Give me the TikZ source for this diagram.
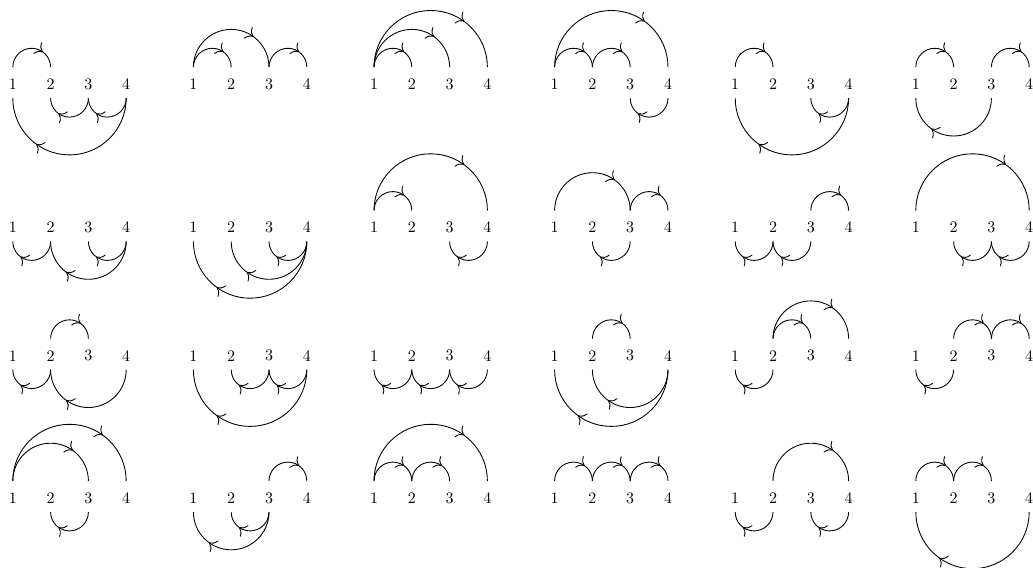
\documentclass[tikz,border=0pt]{standalone}
\usetikzlibrary{decorations.markings,arrows.meta}
\tikzset{
  x=0.625pt, y=0.625pt,
  lbl/.style={inner sep=0pt},
  arcline/.style={line width=0.55pt,
    decoration={markings, mark=at position 0.7 with {\arrow{To[scale=1.5]}}},
    postaction={decorate}},
}
\newcommand\mkpanel[3]{%
  \foreach \i in {1,...,4} {
    \node[lbl] (#1-\i) at ({#2+(\i-1)*37.8},{-#3}) {\i};
    \coordinate (#1-u\i) at ({#2+(\i-1)*37.8},{-#3+17});
    \coordinate (#1-d\i) at ({#2+(\i-1)*37.8},{-#3-14});
  }}
\newcommand\uarc[3]{\draw[arcline] (#1-u#2) arc[start angle=180,end angle=0,radius={(#3-#2)*18.9}];}
\newcommand\darc[3]{\draw[arcline] (#1-d#3) arc[start angle=0,end angle=-180,radius={(#3-#2)*18.9}];}
\begin{document}
\begin{tikzpicture}
\useasboundingbox (0,0) rectangle (1033,-567);
% row 1
\mkpanel{a1}{12.8}{84.2}
\uarc{a1}{1}{2}\darc{a1}{2}{3}\darc{a1}{3}{4}\darc{a1}{1}{4}
\mkpanel{a2}{193.4}{84.2}
\uarc{a2}{1}{2}\uarc{a2}{1}{3}\uarc{a2}{3}{4}
\mkpanel{a3}{374.0}{84.2}
\uarc{a3}{1}{2}\uarc{a3}{1}{3}\uarc{a3}{1}{4}
\mkpanel{a4}{554.6}{84.2}
\uarc{a4}{1}{2}\uarc{a4}{2}{3}\uarc{a4}{1}{4}\darc{a4}{3}{4}
\mkpanel{a5}{735.2}{84.2}
\uarc{a5}{1}{2}\darc{a5}{3}{4}\darc{a5}{1}{4}
\mkpanel{a6}{915.8}{84.2}
\uarc{a6}{1}{2}\uarc{a6}{3}{4}\darc{a6}{1}{3}
% row 2
\mkpanel{b1}{12.8}{227.5}
\darc{b1}{1}{2}\darc{b1}{2}{4}\darc{b1}{3}{4}
\mkpanel{b2}{193.4}{227.5}
\darc{b2}{1}{4}\darc{b2}{2}{4}\darc{b2}{3}{4}
\mkpanel{b3}{374.0}{227.5}
\uarc{b3}{1}{2}\uarc{b3}{1}{4}\darc{b3}{3}{4}
\mkpanel{b4}{554.6}{227.5}
\uarc{b4}{1}{3}\uarc{b4}{3}{4}\darc{b4}{2}{3}
\mkpanel{b5}{735.2}{227.5}
\uarc{b5}{3}{4}\darc{b5}{1}{2}\darc{b5}{2}{3}
\mkpanel{b6}{915.8}{227.5}
\uarc{b6}{1}{4}\darc{b6}{2}{3}\darc{b6}{3}{4}
% row 3
\mkpanel{c1}{12.8}{355.7}
\uarc{c1}{2}{3}\darc{c1}{1}{2}\darc{c1}{2}{4}
\mkpanel{c2}{193.4}{355.7}
\darc{c2}{1}{4}\darc{c2}{2}{3}\darc{c2}{3}{4}
\mkpanel{c3}{374.0}{355.7}
\darc{c3}{1}{2}\darc{c3}{2}{3}\darc{c3}{3}{4}
\mkpanel{c4}{554.6}{355.7}
\uarc{c4}{2}{3}\darc{c4}{1}{4}\darc{c4}{2}{4}
\mkpanel{c5}{735.2}{355.7}
\uarc{c5}{2}{3}\uarc{c5}{2}{4}\darc{c5}{1}{2}
\mkpanel{c6}{915.8}{355.7}
\uarc{c6}{2}{3}\uarc{c6}{3}{4}\darc{c6}{1}{2}
% row 4
\mkpanel{d1}{12.8}{498}
\uarc{d1}{1}{3}\uarc{d1}{1}{4}\darc{d1}{2}{3}
\mkpanel{d2}{193.4}{498}
\uarc{d2}{3}{4}\darc{d2}{1}{3}\darc{d2}{2}{3}
\mkpanel{d3}{374.0}{498}
\uarc{d3}{1}{2}\uarc{d3}{2}{3}\uarc{d3}{1}{4}
\mkpanel{d4}{554.6}{498}
\uarc{d4}{1}{2}\uarc{d4}{2}{3}\uarc{d4}{3}{4}
\mkpanel{d5}{735.2}{498}
\uarc{d5}{2}{4}\darc{d5}{1}{2}\darc{d5}{3}{4}
\mkpanel{d6}{915.8}{498}
\uarc{d6}{1}{2}\uarc{d6}{2}{3}\darc{d6}{1}{4}
\end{tikzpicture}
\end{document}
